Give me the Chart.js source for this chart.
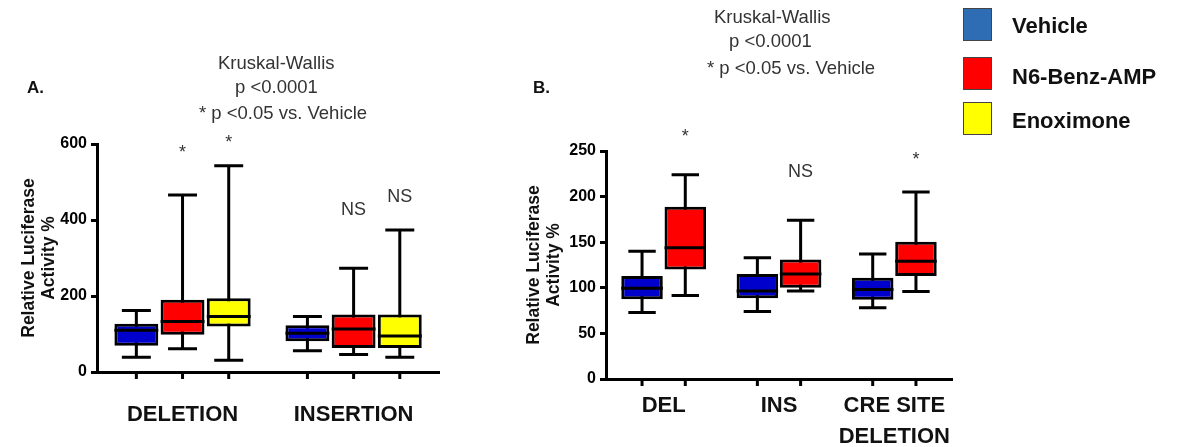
<!DOCTYPE html>
<html lang="en">
<head>
    <meta charset="UTF-8">
    <title>Relative Luciferase Activity</title>
    <script src="https://cdn.jsdelivr.net/npm/chart.js"></script>
    <style>
        body { margin: 0; background: #fff; font-family: "Liberation Sans", Arial, sans-serif; }
        #wrap { position: relative; width: 1177px; height: 447px; overflow: hidden; }
        .box { position: absolute; }
        .note { position: absolute; color: #333; font-size: 18.5px; line-height: 24px; white-space: nowrap; }
        .panel { position: absolute; font-weight: bold; font-size: 17px; color: #111; }
        .leg { position: absolute; left: 963px; width: 27px; height: 31px; border: 1.5px solid #444; }
        .legtxt { position: absolute; left: 1012px; font-weight: bold; font-size: 22px; line-height: 26px; color: #111; }
    </style>
</head>
<body>
<div id="wrap">
    <div class="box" style="left:0;top:0;width:445px;height:447px"><canvas id="chartA"></canvas></div>
    <div class="box" style="left:500px;top:0;width:470px;height:447px"><canvas id="chartB"></canvas></div>

    <div class="panel" style="left:27px;top:78px">A.</div>
    <div class="panel" style="left:533px;top:78px">B.</div>

    <div class="note" style="left:218px;top:51px">Kruskal-Wallis</div>
    <div class="note" style="left:235px;top:75px">p &lt;0.0001</div>
    <div class="note" style="left:199px;top:101px">* p &lt;0.05 vs. Vehicle</div>

    <div class="note" style="left:714px;top:5px">Kruskal-Wallis</div>
    <div class="note" style="left:729px;top:29px">p &lt;0.0001</div>
    <div class="note" style="left:707px;top:56px">* p &lt;0.05 vs. Vehicle</div>

    <div class="leg" style="top:8px;background:#2E6DB4"></div>
    <div class="legtxt" style="top:13px">Vehicle</div>
    <div class="leg" style="top:57px;background:#FF0000"></div>
    <div class="legtxt" style="top:64px">N6-Benz-AMP</div>
    <div class="leg" style="top:102px;background:#FFFF00"></div>
    <div class="legtxt" style="top:108px">Enoximone</div>
</div>

<script>
    // five-number summaries per category: [min, q1, median, q3, max]
    const groupsA = ['DELETION', 'INSERTION'];
    const vehicleA = [[39, 69, 110, 127, 162], [56, 81, 102, 123, 146]];
    const benzA = [[61, 98, 133, 190, 466], [46, 63, 113, 151, 273]];
    const enoxA = [[31, 120, 146, 194, 543], [39, 63, 95, 151, 374]];
    // significance marks above each box
    const benzMarksA = ['*', 'NS'];
    const benzMarkYA = [575, 426];
    const enoxMarksA = ['*', 'NS'];
    const enoxMarkYA = [603, 460];

    const groupsB = ['DEL', 'INS', ['CRE SITE', 'DELETION']];
    const vehicleB = [[73, 87.5, 99.5, 113, 140], [74, 88.5, 96.5, 115, 133], [78, 87, 98, 111, 137]];
    const benzB = [[91.5, 120, 144, 189, 224], [96.5, 100, 115, 131, 174], [96, 113, 129, 150.5, 205]];
    const benzMarksB = ['*', 'NS', '*'];
    const benzMarkYB = [265, 227, 240];

    const seriesNames = ['Vehicle', 'N6-Benz-AMP', 'Enoximone'];
    const seriesColors = ['#0000CC', '#FF0000', '#FFFF00'];

    const FONT = '"Liberation Sans", Arial, sans-serif';

    // whiskers behind boxes, medians / ticks / marks on top
    const boxPlot = {
        id: 'boxPlot',
        beforeDatasetsDraw(chart) {
            const ctx = chart.ctx, y = chart.scales.y;
            ctx.save();
            ctx.strokeStyle = '#000';
            ctx.lineWidth = 3;
            chart.data.datasets.forEach((ds, di) => {
                chart.getDatasetMeta(di).data.forEach((bar, i) => {
                    const s = ds.stats[i];
                    const cap = bar.width * 0.33;
                    const top = y.getPixelForValue(s[4]), bot = y.getPixelForValue(s[0]);
                    ctx.beginPath();
                    ctx.moveTo(bar.x, top); ctx.lineTo(bar.x, bot);
                    ctx.moveTo(bar.x - cap, top); ctx.lineTo(bar.x + cap, top);
                    ctx.moveTo(bar.x - cap, bot); ctx.lineTo(bar.x + cap, bot);
                    ctx.stroke();
                });
            });
            ctx.restore();
        },
        afterDatasetsDraw(chart) {
            const ctx = chart.ctx, y = chart.scales.y;
            ctx.save();
            chart.data.datasets.forEach((ds, di) => {
                chart.getDatasetMeta(di).data.forEach((bar, i) => {
                    const s = ds.stats[i];
                    const half = bar.width / 2;
                    const m = y.getPixelForValue(s[2]);
                    ctx.strokeStyle = '#000';
                    ctx.lineWidth = 3;
                    ctx.beginPath();
                    ctx.moveTo(bar.x - half, m); ctx.lineTo(bar.x + half, m);
                    // tick mark under the x axis
                    ctx.moveTo(bar.x, y.bottom); ctx.lineTo(bar.x, y.bottom + 7);
                    ctx.stroke();
                    if (ds.marks && ds.marks[i]) {
                        ctx.fillStyle = '#333';
                        ctx.font = '18px ' + FONT;
                        ctx.textAlign = 'center';
                        ctx.textBaseline = 'middle';
                        ctx.fillText(ds.marks[i], bar.x, y.getPixelForValue(ds.markY[i]));
                    }
                });
            });
            ctx.restore();
        }
    };

    function makeDataset(idx, stats, marks, markY, cp, bp) {
        return {
            label: seriesNames[idx],
            data: stats.map(s => [s[1], s[3]]),
            stats: stats,
            marks: marks,
            markY: markY,
            backgroundColor: seriesColors[idx],
            borderColor: '#000',
            borderWidth: 3,
            borderSkipped: false,
            categoryPercentage: cp,
            barPercentage: bp
        };
    }

    function makeChart(id, labels, datasets, yMax, yStep, pad, yWidth, xHeight, xPad, xLine) {
        return new Chart(document.getElementById(id), {
            type: 'bar',
            data: { labels: labels, datasets: datasets },
            plugins: [boxPlot],
            options: {
                responsive: true,
                maintainAspectRatio: false,
                animation: false,
                layout: { padding: pad },
                plugins: { legend: { display: false }, tooltip: { enabled: false } },
                scales: {
                    x: {
                        grid: { display: false, drawTicks: false },
                        border: { display: true, color: '#000', width: 3 },
                        ticks: {
                            color: '#111', padding: xPad, autoSkip: false, maxRotation: 0, minRotation: 0,
                            font: { family: FONT, size: 22, weight: 'bold', lineHeight: xLine }
                        },
                        afterFit(scale) { scale.height = xHeight; }
                    },
                    y: {
                        min: 0,
                        max: yMax,
                        ticks: { stepSize: yStep, color: '#000', padding: 4, font: { family: FONT, size: 16, weight: 'bold' } },
                        grid: { drawOnChartArea: false, drawTicks: true, tickLength: 6, color: '#000', lineWidth: 3 },
                        border: { display: true, color: '#000', width: 3 },
                        title: {
                            display: true,
                            text: ['Relative Luciferase', 'Activity %'],
                            color: '#111',
                            padding: 0,
                            font: { family: FONT, size: 17.5, weight: 'bold', lineHeight: 1.1 }
                        },
                        afterFit(scale) { scale.width = yWidth; }
                    }
                }
            }
        });
    }

    makeChart('chartA', groupsA, [
        makeDataset(0, vehicleA, null, null, 0.81, 0.95),
        makeDataset(1, benzA, benzMarksA, benzMarkYA, 0.81, 0.95),
        makeDataset(2, enoxA, enoxMarksA, enoxMarkYA, 0.81, 0.95)
    ], 600, 200, { left: 20, right: 2, top: 144, bottom: 15 }, 77, 60, 31, 1.1);

    makeChart('chartB', groupsB, [
        makeDataset(0, vehicleB, null, null, 0.75, 0.96),
        makeDataset(1, benzB, benzMarksB, benzMarkYB, 0.75, 0.96)
    ], 250, 50, { left: 25, right: 18, top: 151, bottom: 3 }, 81, 65, 12, 1.4);
</script>
</body>
</html>
